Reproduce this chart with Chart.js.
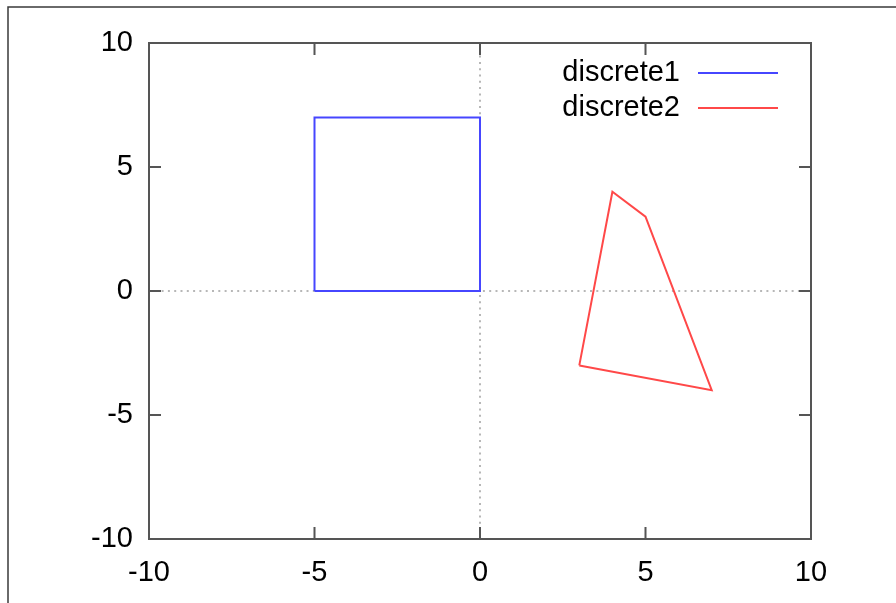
<!DOCTYPE html>
<html lang="en">
<head>
    <meta charset="UTF-8">
    <title>discrete</title>
    <script src="https://cdn.jsdelivr.net/npm/chart.js"></script>
    <style>
        html, body { margin: 0; padding: 0; background: #fff; }
        canvas { display: block; }
    </style>
</head>
<body>
    <canvas id="plot" width="896" height="603"></canvas>
    <script>
        // data
        const seriesNames = ['discrete1', 'discrete2'];
        const square_x = [-5, 0, 0, -5, -5];
        const square_y = [0, 0, 7, 7, 0];
        const quad_x = [3, 4, 5, 7, 3];
        const quad_y = [-3, 4, 3, -4, -3];
        const tickValues = [-10, -5, 0, 5, 10];

        const FONT = { family: '"Liberation Sans", Arial, sans-serif', size: 29 };

        function toPoints(xs, ys) {
            return xs.map((x, i) => ({ x: x, y: ys[i] }));
        }

        // gnuplot look: inward mirrored ticks, dotted zero axes, key with text left of the sample
        const gnuplotFrame = {
            id: 'gnuplotFrame',
            beforeDraw(chart) {
                const ctx = chart.ctx;
                ctx.save();
                ctx.fillStyle = '#fff';
                ctx.fillRect(0, 0, chart.width, chart.height);
                ctx.strokeStyle = '#3a3a3a';
                ctx.lineWidth = 1.5;
                ctx.beginPath();
                ctx.moveTo(8, chart.height);
                ctx.lineTo(8, 7);
                ctx.lineTo(chart.width, 7);
                ctx.stroke();
                ctx.restore();
            },
            beforeDatasetsDraw(chart) {
                const { ctx, chartArea: a, scales } = chart;
                const x0 = scales.x.getPixelForValue(0);
                const y0 = scales.y.getPixelForValue(0);
                ctx.save();
                ctx.strokeStyle = '#a0a0a0';
                ctx.lineWidth = 1.5;
                ctx.setLineDash([2, 4.3]);
                ctx.beginPath();
                ctx.moveTo(a.left, y0);
                ctx.lineTo(a.right, y0);
                ctx.moveTo(x0, a.top);
                ctx.lineTo(x0, a.bottom);
                ctx.stroke();
                ctx.restore();
            },
            afterDatasetsDraw(chart) {
                const { ctx, chartArea: a, scales } = chart;
                const len = 12;
                ctx.save();
                ctx.strokeStyle = '#555';
                ctx.lineWidth = 2;
                ctx.strokeRect(a.left, a.top, a.right - a.left, a.bottom - a.top);
                ctx.beginPath();
                tickValues.forEach(v => {
                    const px = scales.x.getPixelForValue(v);
                    ctx.moveTo(px, a.bottom); ctx.lineTo(px, a.bottom - len);
                    ctx.moveTo(px, a.top); ctx.lineTo(px, a.top + len);
                    const py = scales.y.getPixelForValue(v);
                    ctx.moveTo(a.left, py); ctx.lineTo(a.left + len, py);
                    ctx.moveTo(a.right, py); ctx.lineTo(a.right - len, py);
                });
                ctx.stroke();

                // key
                ctx.font = FONT.size + 'px ' + FONT.family;
                ctx.textAlign = 'right';
                ctx.textBaseline = 'alphabetic';
                chart.data.datasets.forEach((ds, i) => {
                    const y = 73 + i * 35;
                    ctx.fillStyle = '#000';
                    ctx.fillText(ds.label, 680, y + 8);
                    ctx.strokeStyle = ds.borderColor;
                    ctx.lineWidth = 2;
                    ctx.beginPath();
                    ctx.moveTo(698, y);
                    ctx.lineTo(778, y);
                    ctx.stroke();
                });
                ctx.restore();
            }
        };

        const axisCommon = {
            type: 'linear',
            min: -10,
            max: 10,
            grid: { display: false },
            border: { display: false },
            afterBuildTicks: scale => { scale.ticks = tickValues.map(v => ({ value: v })); }
        };

        new Chart(document.getElementById('plot'), {
            type: 'scatter',
            data: {
                datasets: [
                    {
                        label: seriesNames[0],
                        data: toPoints(square_x, square_y),
                        showLine: true,
                        borderColor: '#4646ff',
                        borderWidth: 2,
                        pointRadius: 0,
                        tension: 0
                    },
                    {
                        label: seriesNames[1],
                        data: toPoints(quad_x, quad_y),
                        showLine: true,
                        borderColor: '#ff4848',
                        borderWidth: 2,
                        pointRadius: 0,
                        tension: 0
                    }
                ]
            },
            options: {
                responsive: false,
                animation: false,
                events: [],
                layout: { padding: { left: 0, top: 43, right: 85, bottom: 0 } },
                plugins: {
                    legend: { display: false },
                    tooltip: { enabled: false }
                },
                scales: {
                    x: Object.assign({}, axisCommon, {
                        position: 'bottom',
                        ticks: { font: FONT, color: '#000', padding: 9, maxRotation: 0 },
                        afterFit: scale => { scale.height = 64; }
                    }),
                    y: Object.assign({}, axisCommon, {
                        position: 'left',
                        ticks: { font: FONT, color: '#000', padding: 8 },
                        afterFit: scale => { scale.width = 149; }
                    })
                }
            },
            plugins: [gnuplotFrame]
        });
    </script>
</body>
</html>
